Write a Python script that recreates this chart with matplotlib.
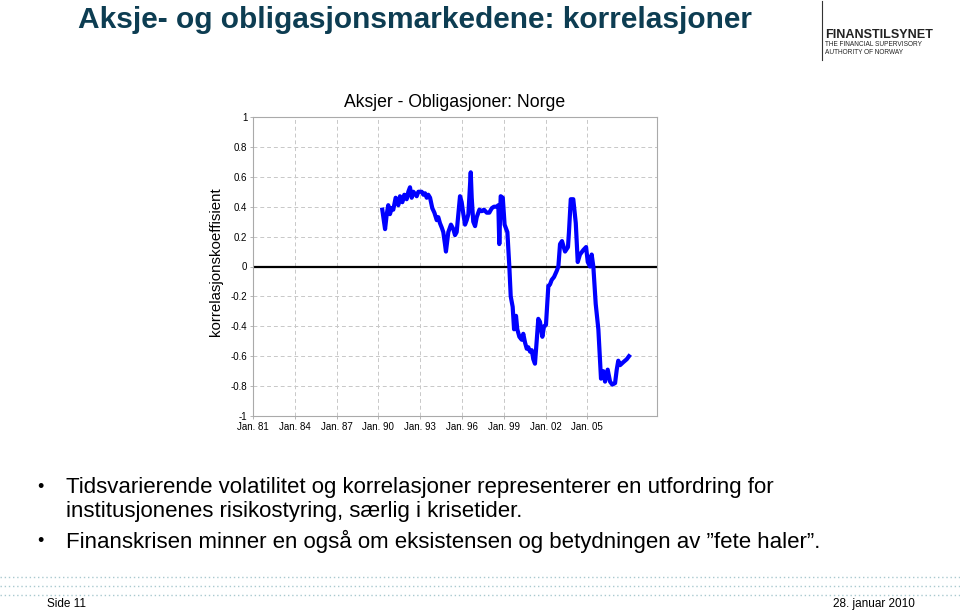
import matplotlib
matplotlib.use("Agg")
import matplotlib.pyplot as plt

plt.rcParams['font.family'] = ['Liberation Sans', 'DejaVu Sans']

# --- Data ---
years = [1990.28, 1990.48, 1990.60, 1990.71, 1990.83, 1990.96, 1991.07, 1991.24,
         1991.43, 1991.55, 1991.72, 1991.86, 1992.03, 1992.15, 1992.27, 1992.39,
         1992.51, 1992.75, 1992.87, 1993.11, 1993.23, 1993.35, 1993.47, 1993.58,
         1993.71, 1993.87, 1994.02, 1994.19, 1994.30, 1994.42, 1994.55, 1994.66,
         1994.78, 1994.85, 1995.02, 1995.21, 1995.38, 1995.50, 1995.62, 1995.74,
         1995.86, 1995.98, 1996.10, 1996.22, 1996.34, 1996.46, 1996.63, 1996.70,
         1996.81, 1996.94, 1997.06, 1997.25, 1997.42, 1997.58, 1997.78, 1997.96,
         1998.14, 1998.30, 1998.49, 1998.61, 1998.68, 1998.78, 1998.93, 1999.06,
         1999.26, 1999.40, 1999.50, 1999.64, 1999.74, 1999.88, 1999.97, 2000.12,
         2000.29, 2000.40, 2000.53, 2000.65, 2000.76, 2000.89, 2001.01, 2001.12,
         2001.24, 2001.37, 2001.48, 2001.60, 2001.77, 2001.89, 2002.03, 2002.20,
         2002.32, 2002.44, 2002.61, 2002.80, 2002.92, 2003.04, 2003.18, 2003.40,
         2003.61, 2003.68, 2003.81, 2003.99, 2004.17, 2004.31, 2004.47, 2004.71,
         2004.91, 2005.03, 2005.19, 2005.31, 2005.43, 2005.60, 2005.79, 2005.98,
         2006.15, 2006.27, 2006.46, 2006.63, 2006.79, 2006.99, 2007.11, 2007.22,
         2007.35, 2007.58, 2007.83, 2007.99]
corr = [0.38, 0.25, 0.35, 0.41, 0.35, 0.39, 0.38, 0.46,
        0.41, 0.47, 0.43, 0.48, 0.45, 0.50, 0.53, 0.46,
        0.50, 0.47, 0.50, 0.50, 0.48, 0.49, 0.46, 0.48,
        0.46, 0.39, 0.36, 0.31, 0.33, 0.29, 0.26, 0.23,
        0.15, 0.10, 0.23, 0.28, 0.25, 0.21, 0.23, 0.35,
        0.47, 0.43, 0.35, 0.28, 0.31, 0.35, 0.63, 0.46,
        0.30, 0.27, 0.33, 0.38, 0.37, 0.38, 0.36, 0.36,
        0.39, 0.40, 0.40, 0.41, 0.15, 0.47, 0.46, 0.28,
        0.23, 0.00, -0.20, -0.27, -0.42, -0.33, -0.42, -0.47,
        -0.49, -0.45, -0.51, -0.55, -0.54, -0.57, -0.56, -0.62,
        -0.65, -0.49, -0.35, -0.37, -0.47, -0.40, -0.39, -0.13,
        -0.12, -0.09, -0.07, -0.03, 0.00, 0.15, 0.17, 0.10,
        0.13, 0.23, 0.45, 0.45, 0.29, 0.03, 0.08, 0.11,
        0.13, 0.03, 0.00, 0.08, 0.00, -0.25, -0.42, -0.75,
        -0.70, -0.77, -0.69, -0.77, -0.79, -0.78, -0.69, -0.63,
        -0.66, -0.64, -0.62, -0.60]

xtick_pos = [1981, 1984, 1987, 1990, 1993, 1996, 1999, 2002, 2005]
xtick_labels = ["Jan. 81", "Jan. 84", "Jan. 87", "Jan. 90", "Jan. 93",
                "Jan. 96", "Jan. 99", "Jan. 02", "Jan. 05"]
ytick_pos = [1, 0.8, 0.6, 0.4, 0.2, 0, -0.2, -0.4, -0.6, -0.8, -1]
ytick_labels = ["1", "0.8", "0.6", "0.4", "0.2", "0", "-0.2", "-0.4", "-0.6", "-0.8", "-1"]

bullet_lines = [
    ("Tidsvarierende volatilitet og korrelasjoner representerer en utfordring for", True),
    ("institusjonenes risikostyring, særlig i krisetider.", False),
    ("Finanskrisen minner en også om eksistensen og betydningen av \u201dfete haler\u201d.", True),
]
line_y = [487, 511, 541]

# --- Figure ---
fig = plt.figure(figsize=(9.6, 6.11), dpi=100)

fig.text(78 / 960, 1 - 20 / 611, "Aksje- og obligasjonsmarkedene: korrelasjoner",
         fontsize=21.5, fontweight="bold", color="#0d3d52", va="center", ha="left")

# logo
fig.add_artist(plt.Line2D([822 / 960, 822 / 960], [1 - 1 / 611, 1 - 60 / 611],
                          color="#333333", lw=0.8))
fig.text(825 / 960, 1 - 35 / 611, "FINANSTILSYNET", fontsize=9.1, fontweight="bold",
         color="#222222", va="center")
fig.text(825 / 960, 1 - 45 / 611, "THE FINANCIAL SUPERVISORY", fontsize=4.7,
         color="#222222", va="center")
fig.text(825 / 960, 1 - 52 / 611, "AUTHORITY OF NORWAY", fontsize=4.7,
         color="#222222", va="center")

# chart
ax = fig.add_axes([253 / 960, 1 - 416 / 611, 404 / 960, 299 / 611])
ax.plot(years, corr, color="#0000ff", lw=3.0, solid_joinstyle="round", zorder=3)
ax.axhline(0, color="black", lw=1.6, zorder=2)
ax.set_xlim(1981, 2010)
ax.set_ylim(-1, 1)
ax.set_xticks(xtick_pos)
ax.set_xticklabels(xtick_labels, fontsize=7)
ax.set_yticks(ytick_pos)
ax.set_yticklabels(ytick_labels, fontsize=7)
ax.tick_params(length=2, width=0.5, color="#999999", pad=2)
ax.grid(True, color="#c8c8c8", ls=(0, (4, 3)), lw=0.7)
for s in ax.spines.values():
    s.set_color("#aaaaaa")
    s.set_linewidth(0.8)
ax.set_title("Aksjer - Obligasjoner: Norge", fontsize=12.7, pad=7)
ax.set_ylabel("korrelasjonskoeffisient", fontsize=10.8)
ax.yaxis.set_label_coords(-0.075, 0.515)

# bullets
for y, (txt, has_bullet) in zip(line_y, bullet_lines):
    if has_bullet:
        fig.text(37 / 960, 1 - y / 611, "\u2022", fontsize=13, va="center")
    fig.text(66 / 960, 1 - y / 611, txt, fontsize=16, va="center")

# dotted band
for yy in [577, 586, 595]:
    fig.add_artist(plt.Line2D([0, 1], [1 - yy / 611, 1 - yy / 611],
                              color="#a9c9cf", lw=1.0, ls=(0, (1, 2))))

fig.text(47 / 960, 1 - 604 / 611, "Side 11", fontsize=8.5, va="center")
fig.text(915 / 960, 1 - 604 / 611, "28. januar 2010", fontsize=8.5, va="center", ha="right")

fig.savefig("out.png", dpi=100)
